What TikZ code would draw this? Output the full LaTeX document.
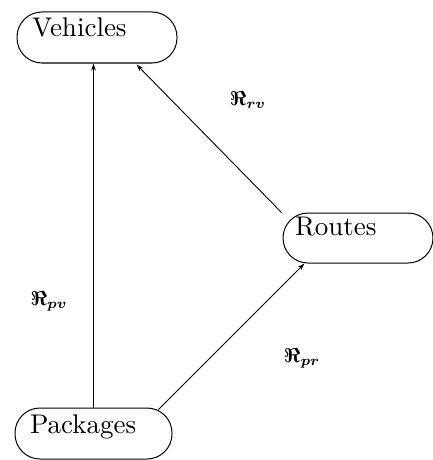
\documentclass[tikz,border=0pt]{standalone}
\usepackage{amsmath}
\usepackage{graphicx}
\usetikzlibrary{arrows.meta,calc}
\newcommand{\bigtxt}[1]{\scalebox{2.7}{#1}}
\newcommand{\biglbl}[1]{\scalebox{2.0}{$\boldsymbol{#1}$}}
\tikzset{
  box/.style={draw, line width=1pt, rounded corners=25pt, inner ysep=0pt, align=left},
  rel/.style={line width=0.9pt, -{Stealth[length=7pt,width=4.5pt]}},
  lbl/.style={inner sep=0pt}
}
\begin{document}
\begin{tikzpicture}[x=1pt,y=-1pt]
\useasboundingbox (0,0) rectangle (432,460);
\node[box, inner xsep=15pt, text width=130pt, text height=25pt, text depth=26pt] (veh) at (97,37.5) {\bigtxt{Vehicles}};
\node[box, inner xsep=12pt, text width=126pt, text height=22pt, text depth=28pt] (rte) at (358,238) {\bigtxt{Routes}};
\node[box, inner xsep=15pt, text width=127pt, text height=25pt, text depth=26pt] (pkg) at (93.5,433.5) {\bigtxt{Packages}};
\draw[rel] (pkg.north) -- (pkg.north |- veh.south);
\draw[rel] ($(pkg.north east)+(-14,2)$) -- ($(rte.south west)+(22,0)$);
\draw[rel] ($(rte.north west)+(-1,0)$) -- ($(veh.south west)+(120,1)$);
\node[lbl] (lrv) at (248,100) {\biglbl{\Re_{rv}}};
\node[lbl] (lpv) at (49,301) {\biglbl{\Re_{pv}}};
\node[lbl] (lpr) at (302,358) {\biglbl{\Re_{pr}}};
\end{tikzpicture}
\end{document}
